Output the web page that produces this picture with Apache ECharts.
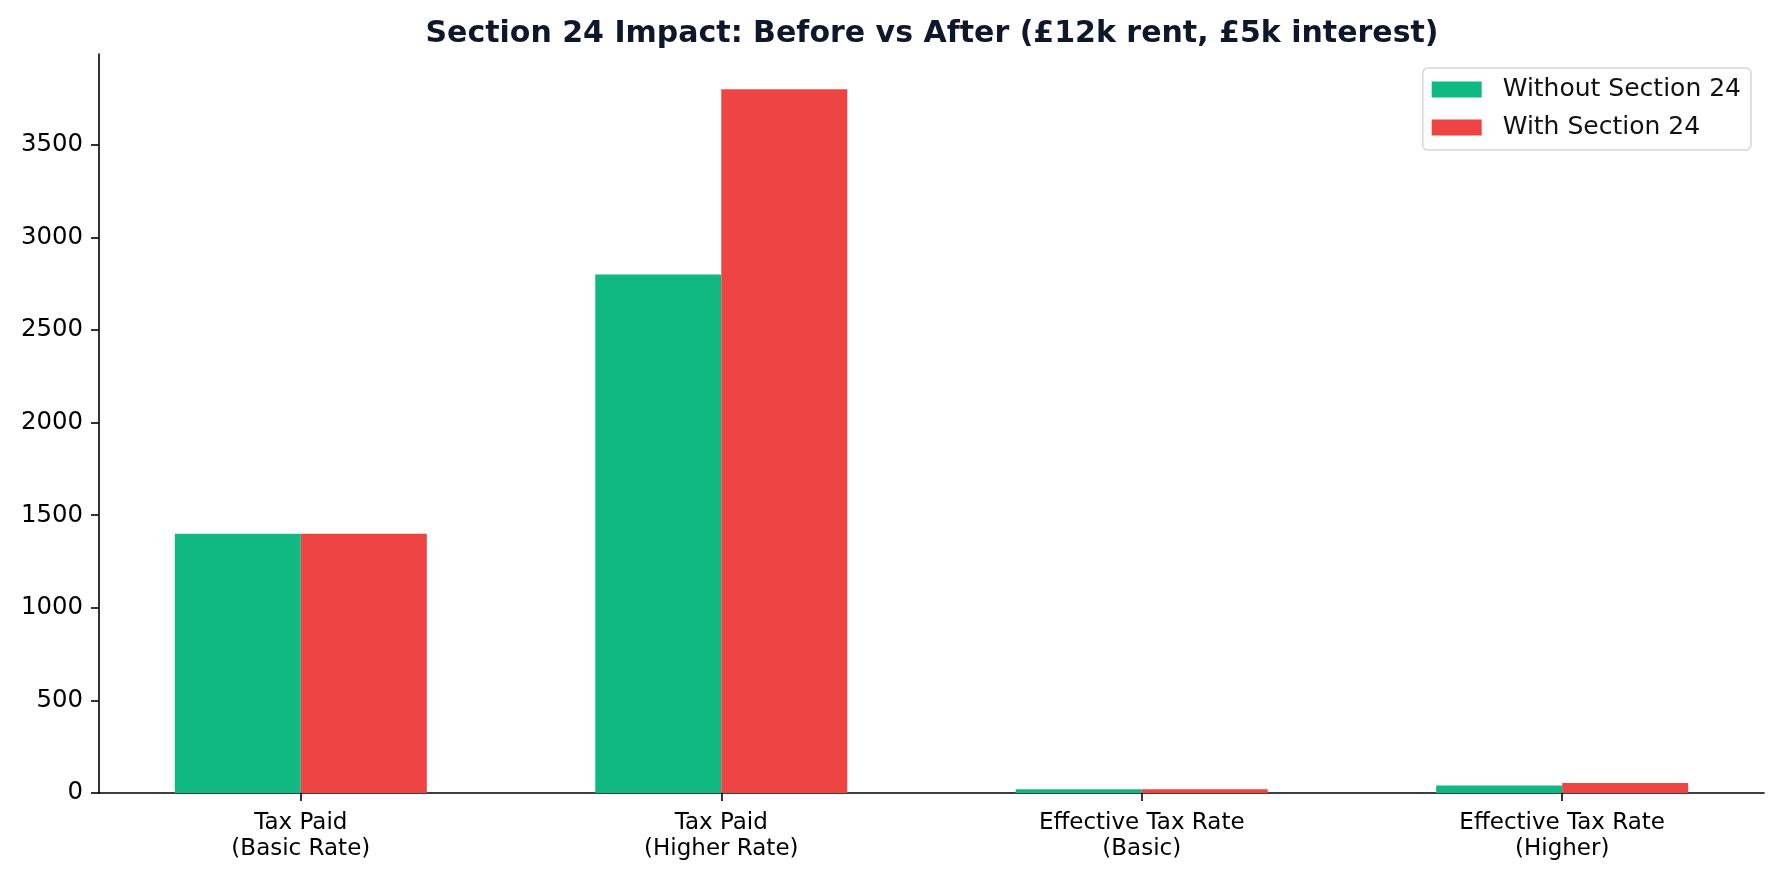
<!DOCTYPE html>
<html>
<head>
<meta charset="utf-8">
<script src="https://cdn.jsdelivr.net/npm/echarts@6/dist/echarts.min.js"></script>
<style>
  html, body { margin: 0; padding: 0; background: #fff; }
  #chart { width: 1782px; height: 878px; }
</style>
</head>
<body>
<div id="chart"></div>
<script>
const categories = ['Tax Paid\n(Basic Rate)', 'Tax Paid\n(Higher Rate)', 'Effective Tax Rate\n(Basic)', 'Effective Tax Rate\n(Higher)'];
const withoutS24 = [1400, 2800, 20, 40];
const withS24 = [1400, 3800, 20, 54.3];
const yTicks = [0, 500, 1000, 1500, 2000, 2500, 3000, 3500];
const xPositions = [0, 1, 2, 3];

const font = 'DejaVu Sans';

function toPairs(values)
{
    return values.map((v, i) => [xPositions[i], v]);
}

const chart = echarts.init(document.getElementById('chart'));

chart.setOption({
    animation: false,
    backgroundColor: '#ffffff',
    title: {
        text: 'Section 24 Impact: Before vs After (£12k rent, £5k interest)',
        left: 927,
        top: 14,
        textAlign: 'center',
        textStyle: { fontFamily: font, fontSize: 30, fontWeight: 'bold', color: '#0f172a' }
    },
    legend: {
        orient: 'vertical',
        right: 31,
        top: 68,
        padding: [8, 10, 9, 9],
        icon: 'rect',
        itemWidth: 50,
        itemHeight: 16,
        itemGap: 11,
        borderColor: '#d6d6d6',
        borderWidth: 1.5,
        borderRadius: 5,
        backgroundColor: '#ffffff',
        textStyle: { fontFamily: font, fontSize: 25, color: '#111', lineHeight: 27, padding: [0, 0, 0, 16] },
        data: ['Without Section 24', 'With Section 24']
    },
    grid: { left: 99, right: 18, top: 54, bottom: 85 },
    xAxis: {
        type: 'value',
        min: -0.48,
        max: 3.48,
        splitLine: { show: false },
        axisLine: { show: true, onZero: false, lineStyle: { color: '#000', width: 1.6 } },
        axisTick: { show: true, length: 8, customValues: xPositions, lineStyle: { color: '#000', width: 1.6 } },
        axisLabel: {
            customValues: xPositions,
            formatter: (v) => categories[Math.round(v)],
            fontFamily: font,
            fontSize: 23,
            lineHeight: 26,
            color: '#000',
            margin: 17
        }
    },
    yAxis: {
        type: 'value',
        min: 0,
        max: 3990,
        splitLine: { show: false },
        axisLine: { show: true, onZero: false, lineStyle: { color: '#000', width: 1.6 } },
        axisTick: { show: true, length: 8, customValues: yTicks, lineStyle: { color: '#000', width: 1.6 } },
        axisLabel: {
            customValues: yTicks,
            formatter: (v) => String(v),
            fontFamily: font,
            fontSize: 24.4,
            color: '#000',
            margin: 16
        }
    },
    series: [
        {
            name: 'Without Section 24',
            type: 'bar',
            barWidth: 126,
            barGap: '0%',
            itemStyle: { color: '#10b981' },
            data: toPairs(withoutS24)
        },
        {
            name: 'With Section 24',
            type: 'bar',
            barWidth: 126,
            barGap: '0%',
            itemStyle: { color: '#ef4444' },
            data: toPairs(withS24)
        }
    ]
});
</script>
</body>
</html>
